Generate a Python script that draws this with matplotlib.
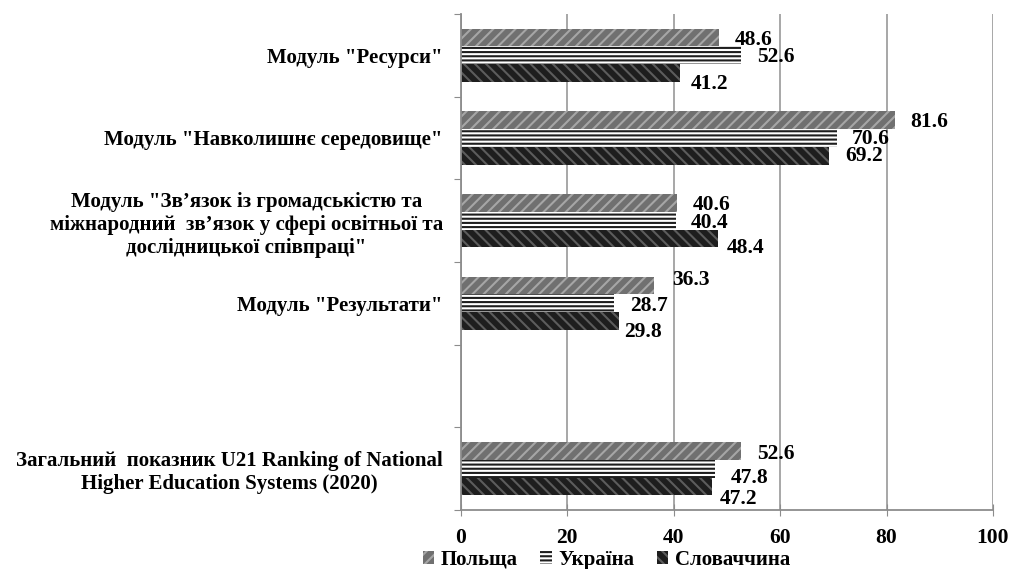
import numpy as np
import matplotlib
matplotlib.use("Agg")
import matplotlib.pyplot as plt

plt.rcParams['font.family'] = ['Liberation Serif', 'DejaVu Serif']
plt.rcParams['font.weight'] = 'bold'
plt.rcParams['hatch.linewidth'] = 1.5

# data (top to bottom)
categories = [
    'Модуль "Ресурси"',
    'Модуль "Навколишнє середовище"',
    'Модуль "Зв’язок із громадськістю та\nміжнародний  зв’язок у сфері освітньої та\nдослідницької співпраці"',
    'Модуль "Результати"',
    '',
    'Загальний  показник U21 Ranking of National\nHigher Education Systems (2020)',
]
series = ['Польща', 'Україна', 'Словаччина']
poland = [48.6, 81.6, 40.6, 36.3, None, 52.6]
ukraine = [52.6, 70.6, 40.4, 28.7, None, 47.8]
slovakia = [41.2, 69.2, 48.4, 29.8, None, 47.2]

# hand-placed label nudges (pixels right, pixels down) like in the source chart
nudges = [
    [(15, 0), (15, 0), (16, 0), (18, -8), (16, 1)],
    [(16, 0), (15, -1), (15, 0), (16, 1), (16, 7)],
    [(11, 9), (16, -2), (8, 8), (5, 9), (8, 11)],
]

styles = [
    dict(facecolor='#707070', hatch='///', edgecolor='#a6a6a6'),
    dict(facecolor='white', hatch='----', edgecolor='#1e1e1e'),
    dict(facecolor='#1e1e1e', hatch='\\\\\\', edgecolor='#5c5c5c'),
]

fig = plt.figure(figsize=(10.1, 5.69), dpi=100)
ax = fig.add_axes([0.4564, 0.1037, 0.5267, 0.8717])

pos = np.arange(len(categories))
bh = 0.215
offs = [-bh, 0.0, bh]
px = 0.72  # points per pixel at 100 dpi
for vals, off, st, name, nud in zip([poland, ukraine, slovakia], offs, styles,
                                    series, nudges):
    idx = [i for i, v in enumerate(vals) if v is not None]
    v = [vals[i] for i in idx]
    y = pos[idx] + off
    ax.barh(y, v, height=bh, linewidth=0, label=name, **st)
    for yy, vv, (dx, dy) in zip(y, v, nud):
        ax.annotate(f'{vv:.1f}', (vv, yy), xytext=(dx * px, -(dy + 7) * px),
                    textcoords='offset points', va='baseline', ha='left',
                    fontsize=15.5, fontweight='bold')

ax.set_xlim(0, 100)
ax.set_ylim(len(categories) - 0.5, -0.5)
ax.set_xticks(np.arange(0, 101, 20))
ax.tick_params(axis='x', labelsize=15.5, length=8, direction='inout',
               color='#8c8c8c', pad=9)
ax.xaxis.grid(True, color='#a0a0a0', linewidth=1.3)
ax.set_axisbelow(True)

ax.set_yticks(np.arange(len(categories) + 1) - 0.5)
ax.set_yticklabels([])
ax.tick_params(axis='y', which='major', length=5, color='#8c8c8c')
ax.set_yticks(pos, minor=True)
ax.set_yticklabels(categories, minor=True, fontsize=15, fontweight='bold',
                   multialignment='center')
ax.tick_params(axis='y', which='minor', length=0, pad=13)

for s in ['top', 'right']:
    ax.spines[s].set_visible(False)
for s in ['left', 'bottom']:
    ax.spines[s].set_color('#8c8c8c')
    ax.spines[s].set_linewidth(1.3)

leg = ax.legend(loc='center', bbox_to_anchor=(0.273, -0.1), ncol=3,
                frameon=False, fontsize=15, handlelength=0.55,
                handleheight=0.55, handletextpad=0.3, columnspacing=1.1,
                borderpad=0, borderaxespad=0)

fig.savefig('out.png', dpi=100)
